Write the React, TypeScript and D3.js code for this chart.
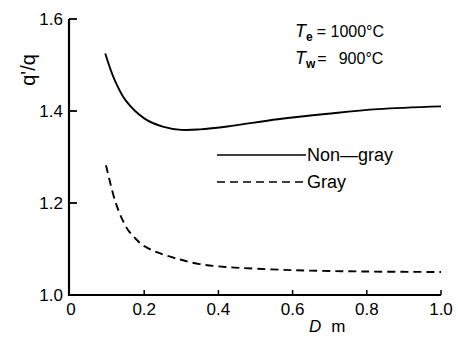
import React, { useEffect, useRef } from "react";
import * as d3 from "d3";

const xTicks = [0, 0.2, 0.4, 0.6, 0.8, 1.0];
const yTicks = [1.0, 1.2, 1.4, 1.6];

const nonGrayD = [0.095, 0.12, 0.15, 0.2, 0.25, 0.3, 0.35, 0.43, 0.56, 0.695, 0.83, 1.0];
const nonGrayQ = [1.525, 1.468, 1.423, 1.384, 1.366, 1.359, 1.360, 1.367, 1.382, 1.394, 1.404, 1.41];

const grayD = [0.097, 0.121, 0.14, 0.156, 0.175, 0.197, 0.234, 0.288, 0.35, 0.42, 0.6, 0.8, 1.0];
const grayQ = [1.282, 1.206, 1.166, 1.142, 1.124, 1.108, 1.093, 1.079, 1.067, 1.061, 1.054, 1.051, 1.05];

const W = 458;
const H = 337;

export default function App() {
  const ref = useRef<SVGSVGElement>(null);
  useEffect(() => {
    const svg = d3.select(ref.current);
    svg.selectAll("*").remove();
    const x = d3.scaleLinear().domain([0, 1]).range([70, 441]);
    const y = d3.scaleLinear().domain([1, 1.6]).range([295, 19]);
    const font = "'Liberation Sans', Arial, sans-serif";

    // axes lines
    svg.append("line").attr("x1", 69).attr("x2", 69).attr("y1", y(1.6)).attr("y2", y(1) + 1)
      .attr("stroke", "#000").attr("stroke-width", 2.2);
    svg.append("line").attr("x1", 68).attr("x2", x(1)).attr("y1", y(1)).attr("y2", y(1))
      .attr("stroke", "#000").attr("stroke-width", 2.2);

    // y ticks
    yTicks.forEach((t) => {
      if (t !== 1.0) {
        svg.append("line").attr("x1", 69).attr("x2", 77).attr("y1", y(t)).attr("y2", y(t))
          .attr("stroke", "#000").attr("stroke-width", 1.8);
      }
      svg.append("text").attr("x", 63).attr("y", y(t)).attr("dy", "0.36em")
        .attr("text-anchor", "end").attr("font-family", font).attr("font-size", 17)
        .text(t.toFixed(1));
    });
    // x ticks
    xTicks.forEach((t) => {
      if (t !== 0) {
        svg.append("line").attr("x1", x(t)).attr("x2", x(t)).attr("y1", y(1)).attr("y2", y(1) - 5)
          .attr("stroke", "#000").attr("stroke-width", 1.5);
      }
      svg.append("text").attr("x", x(t) + (t === 0 ? 1 : 0)).attr("y", 315)
        .attr("text-anchor", "middle").attr("font-family", font).attr("font-size", 17)
        .text(t === 0 ? "0" : t.toFixed(1));
    });

    const line = d3.line<[number, number]>()
      .x((d) => x(d[0])).y((d) => y(d[1])).curve(d3.curveCatmullRom.alpha(0.5));

    const ng: [number, number][] = nonGrayD.map((d, i) => [d, nonGrayQ[i]]);
    const g: [number, number][] = grayD.map((d, i) => [d, grayQ[i]]);

    svg.append("path").attr("d", line(ng)).attr("fill", "none").attr("stroke", "#000").attr("stroke-width", 1.9);
    svg.append("path").attr("d", line(g)).attr("fill", "none").attr("stroke", "#000").attr("stroke-width", 1.9)
      .attr("stroke-dasharray", "8,5");

    // legend
    svg.append("line").attr("x1", 217).attr("x2", 306).attr("y1", 155).attr("y2", 155)
      .attr("stroke", "#000").attr("stroke-width", 1.6);
    svg.append("text").attr("x", 307).attr("y", 161).attr("font-family", font).attr("font-size", 18)
      .text("Non\u2014gray");
    svg.append("line").attr("x1", 217).attr("x2", 306).attr("y1", 182).attr("y2", 182)
      .attr("stroke", "#000").attr("stroke-width", 1.6).attr("stroke-dasharray", "8,5");
    svg.append("text").attr("x", 307).attr("y", 188).attr("font-family", font).attr("font-size", 18)
      .text("Gray");

    // annotation
    const a1 = svg.append("text").attr("x", 295).attr("y", 37).attr("font-family", font).attr("font-size", 16);
    a1.append("tspan").attr("font-style", "italic").attr("font-size", 18).text("T");
    a1.append("tspan").attr("font-weight", "bold").attr("font-size", 12).attr("dy", 4).text("e");
    a1.append("tspan").attr("dy", -4).attr("dx", 4).text("= 1000\u00b0C");
    const a2 = svg.append("text").attr("x", 295).attr("y", 64).attr("font-family", font).attr("font-size", 16);
    a2.append("tspan").attr("font-style", "italic").attr("font-size", 18).text("T");
    a2.append("tspan").attr("font-weight", "bold").attr("font-size", 12).attr("dy", 4).text("w");
    a2.append("tspan").attr("dy", -4).attr("dx", 2).text("=");
    a2.append("tspan").attr("dx", 12).text("900\u00b0C");

    // axis labels
    const xl = svg.append("text").attr("x", 309).attr("y", 332).attr("font-family", font).attr("font-size", 17);
    xl.append("tspan").attr("font-style", "italic").text("D");
    xl.append("tspan").attr("dx", 10).text("m");

    svg.append("text").attr("transform", "translate(35,70) rotate(-90)")
      .attr("text-anchor", "middle").attr("font-family", font).attr("font-size", 20)
      .text("q'/q");
  }, []);
  return (
    <svg ref={ref} width={W} height={H}
      style={{ position: "absolute", left: 0, top: 0, background: "#fff" }} />
  );
}
